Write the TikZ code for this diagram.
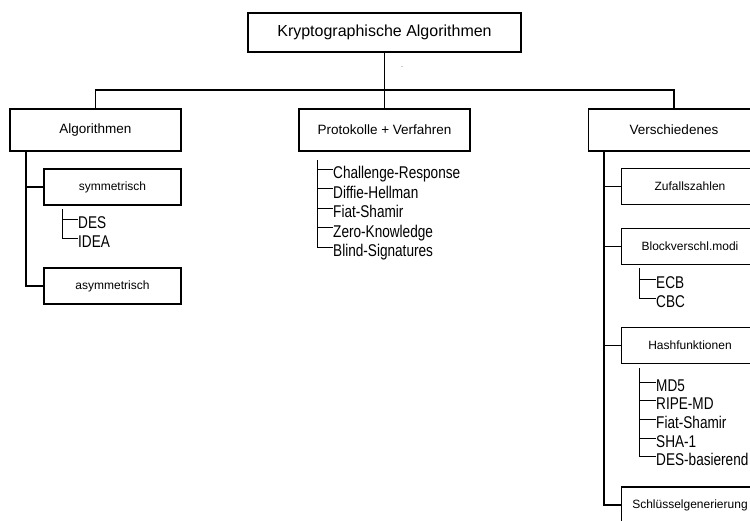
\documentclass[tikz,border=0pt]{standalone}
\usepackage{fontspec}
\setmainfont{Liberation Sans}
\newfontfamily\narrowfont{Liberation Sans}[FakeStretch=0.8]
\usetikzlibrary{calc}
\begin{document}
\begin{tikzpicture}[x=1pt,y=-1pt,
 box/.style={draw, line width=1.8pt, inner sep=0pt, anchor=center},
 topbox/.style={box, minimum width=273pt, minimum height=39pt, font=\fontsize{16}{19}\selectfont},
 lvlbox/.style={box, minimum width=171pt, minimum height=42pt, font=\fontsize{13.5}{16}\selectfont},
 subbox/.style={box, minimum width=137pt, minimum height=36pt, font=\fontsize{12}{14}\selectfont},
 conn/.style={line width=1.8pt},
 twig/.style={line width=0.8pt},
 item/.style={inner sep=0pt, anchor=west, text height=19pt, text depth=0pt, font=\narrowfont\fontsize{17}{20}\selectfont}]
\useasboundingbox (0,0) rectangle (750,520);
\clip (0,0) rectangle (750,520);
\fill[white] (0,0) rectangle (750,520);

% main boxes
\node[topbox] (T) at (384.5,32.5) {Kryptographische Algorithmen};
\node[lvlbox] (A) at (95.5,130) {Algorithmen};
\node[lvlbox] (P) at (384.5,130) {Protokolle + Verfahren};
\node[lvlbox] (V) at (674,130) {Verschiedenes};
\node[inner sep=0pt, text=gray, font=\fontsize{9}{9}\selectfont] (dot) at (402,67) {.};

\coordinate (bus) at (384.5,90);
\draw[conn] (T.south) -- (P.north);
\draw[conn] (A.north) |- (bus) -| (V.north);

% Algorithmen branch
\node[subbox] (sym) at (112.5,187) {symmetrisch};
\node[subbox] (asym) at (112.5,286) {asymmetrisch};
\coordinate (ta) at ($(A.south west)+(17,0)$);
\draw[conn] (ta) |- (asym.west);
\draw[conn] (ta |- sym.west) -- (sym.west);

\node[item] (des) at (78,219) {DES};
\node[item] (idea) at (78,238) {IDEA};
\coordinate (td) at (62,209);
\draw[twig] (td) |- (idea.west);
\draw[twig] (td |- des.west) -- (des.west);

% Protokolle list
\node[item] (cr) at (333,169) {Challenge-Response};
\node[item] (dh) at (333,188.5) {Diffie-Hellman};
\node[item] (fs) at (333,208) {Fiat-Shamir};
\node[item] (zk) at (333,227.5) {Zero-Knowledge};
\node[item] (bs) at (333,247) {Blind-Signatures};
\coordinate (tp) at (317,160);
\draw[twig] (tp) |- (bs.west);
\foreach \n in {cr,dh,fs,zk} \draw[twig] (tp |- \n.west) -- (\n.west);

% Verschiedenes branch
\node[subbox] (zuf) at (690,186.5) {Zufallszahlen};
\node[subbox] (blk) at (690,246.5) {Blockverschl.modi};
\node[subbox] (hash) at (690,345.5) {Hashfunktionen};
\node[subbox] (key) at (690,505) {Schlüsselgenerierung};
\coordinate (tv) at ($(V.south west)+(16.5,0)$);
\draw[conn] (tv) |- (key.west);
\foreach \n in {zuf,blk,hash} \draw[conn] (tv |- \n.west) -- (\n.west);

\node[item] (ecb) at (656,279) {ECB};
\node[item] (cbc) at (656,298) {CBC};
\coordinate (te) at (639,268);
\draw[twig] (te) |- (cbc.west);
\draw[twig] (te |- ecb.west) -- (ecb.west);

\node[item] (md5) at (656,382) {MD5};
\node[item] (ripe) at (656,400) {RIPE-MD};
\node[item] (fs2) at (656,419) {Fiat-Shamir};
\node[item] (sha) at (656,438) {SHA-1};
\node[item] (desb) at (656,456) {DES-basierend};
\coordinate (th) at (639,368);
\draw[twig] (th) |- (desb.west);
\foreach \n in {md5,ripe,fs2,sha} \draw[twig] (th |- \n.west) -- (\n.west);
\end{tikzpicture}
\end{document}
